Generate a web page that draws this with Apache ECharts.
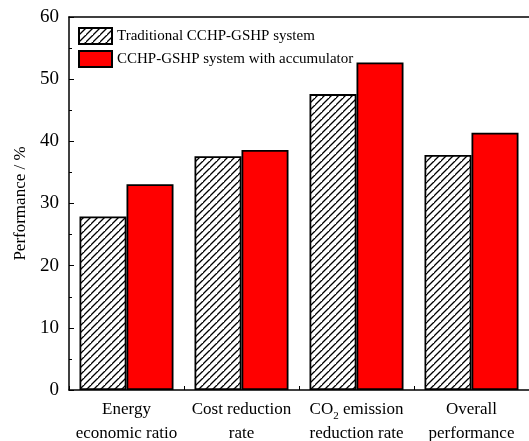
<!DOCTYPE html>
<html>
<head>
<meta charset="utf-8">
<script src="https://cdn.jsdelivr.net/npm/echarts@6/dist/echarts.min.js"></script>
<style>
  html, body { margin: 0; padding: 0; background: #fff; }
  #chart { width: 529px; height: 441px; }
</style>
</head>
<body>
<div id="chart"></div>
<script>
// Categories along the x axis (CO2 uses a rich-text subscript)
var categories = [
  'Energy\neconomic ratio',
  'Cost reduction\nrate',
  '{n|CO}{sub|2}{n| emission}\n{n|reduction rate}',
  'Overall\nperformance'
];
var seriesNames = ['Traditional CCHP-GSHP system', 'CCHP-GSHP system with accumulator'];
var traditionalValues = [27.9, 37.6, 47.6, 37.8];
var accumulatorValues = [33.1, 38.6, 52.7, 41.4];
var yTicks = [0, 10, 20, 30, 40, 50, 60];

// Diagonal hatch pattern "///" for the traditional system bars
function makeHatch() {
  var size = 7;
  var c = document.createElement('canvas');
  c.width = size; c.height = size;
  var ctx = c.getContext('2d');
  ctx.fillStyle = '#fff';
  ctx.fillRect(0, 0, size, size);
  ctx.strokeStyle = '#000';
  ctx.lineWidth = 1.3;
  ctx.beginPath();
  ctx.moveTo(-1, size + 1); ctx.lineTo(size + 1, -1);
  ctx.moveTo(-1 - size, size + 1); ctx.lineTo(1, -1);
  ctx.moveTo(size - 1, 2 * size + 1); ctx.lineTo(2 * size + 1, size - 1);
  ctx.stroke();
  return c;
}
var hatch = { image: makeHatch(), repeat: 'repeat' };

var font = '"Liberation Serif", "Times New Roman", serif';
var chart = echarts.init(document.getElementById('chart'), null, { renderer: 'canvas' });

chart.setOption({
  animation: false,
  backgroundColor: '#fff',
  textStyle: { fontFamily: font, color: '#000' },
  grid: { left: 69, right: 0, top: 17, bottom: 51, containLabel: false, outerBoundsMode: 'none' },
  legend: {
    orient: 'vertical',
    left: 73, top: 22,
    icon: 'rect',
    itemWidth: 33, itemHeight: 16,
    itemGap: 5,
    textStyle: { fontFamily: font, fontSize: 15, color: '#000' },
    data: seriesNames
  },
  xAxis: [{
    type: 'category',
    data: categories,
    axisLine: { lineStyle: { color: '#000', width: 1.5 } },
    axisTick: { show: true, inside: true, length: 4, lineStyle: { color: '#000', width: 1 } },
    axisLabel: {
      fontFamily: font, fontSize: 17, color: '#000', margin: 8, lineHeight: 24,
      interval: 0,
      rich: {
        n: { fontFamily: font, fontSize: 17, color: '#000', lineHeight: 24 },
        sub: { fontFamily: font, fontSize: 11, color: '#000', verticalAlign: 'bottom', padding: [8, 0, 0, 0], lineHeight: 24 }
      }
    }
  }, {
    type: 'category',
    position: 'top',
    data: categories,
    axisLine: { show: true, lineStyle: { color: '#000', width: 1.5 } },
    axisTick: { show: false },
    axisLabel: { show: false }
  }],
  yAxis: {
    type: 'value',
    min: yTicks[0], max: yTicks[yTicks.length - 1], interval: 10,
    name: 'Performance / %',
    nameLocation: 'middle',
    nameGap: 37,
    nameTextStyle: { fontFamily: font, fontSize: 17, color: '#000' },
    axisLine: { show: true, lineStyle: { color: '#000', width: 1.5 } },
    axisTick: { show: true, inside: true, length: 5, lineStyle: { color: '#000', width: 1 } },
    minorTick: { show: true, splitNumber: 2, length: 3, lineStyle: { color: '#000', width: 1 } },
    splitLine: { show: false },
    axisLabel: { fontFamily: font, fontSize: 19, color: '#000', margin: 10 }
  },
  series: [{
    name: seriesNames[0],
    type: 'bar',
    data: traditionalValues,
    barWidth: 47,
    barGap: '0%',
    itemStyle: { color: hatch, borderColor: '#000', borderWidth: 1.8 }
  }, {
    name: seriesNames[1],
    type: 'bar',
    data: accumulatorValues,
    barWidth: 47,
    itemStyle: { color: '#ff0000', borderColor: '#000', borderWidth: 1.8 }
  }]
});
</script>
</body>
</html>
